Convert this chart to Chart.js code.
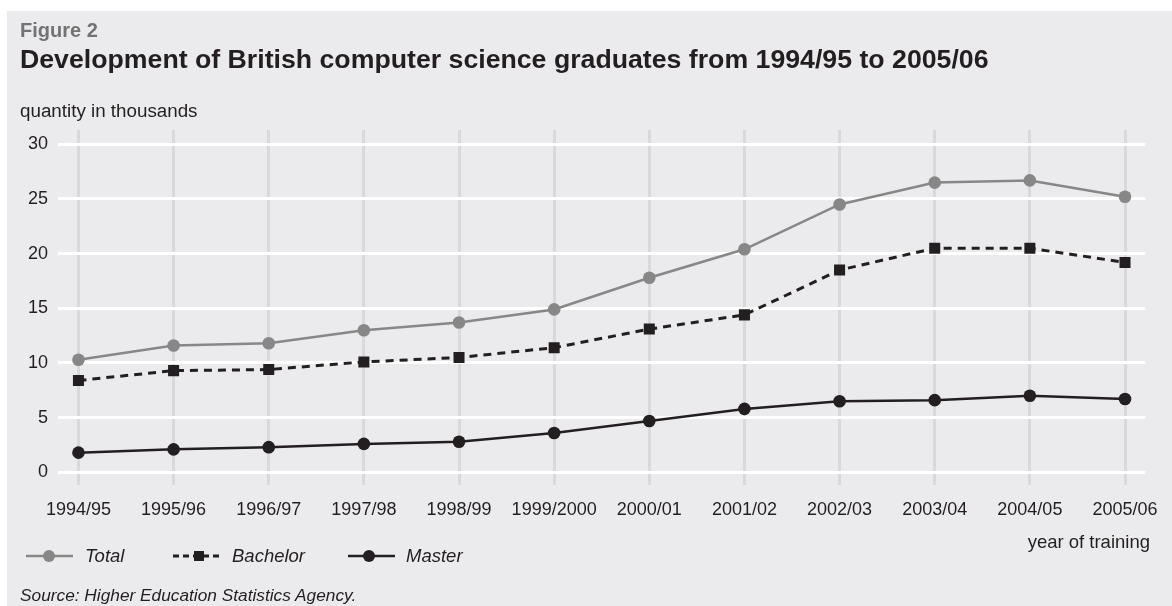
<!DOCTYPE html>
<html>
<head>
<meta charset="utf-8">
<title>Development of British computer science graduates</title>
<script src="https://cdn.jsdelivr.net/npm/chart.js@4.4.1/dist/chart.umd.min.js"></script>
<style>
  html, body { margin: 0; padding: 0; background: #ffffff; }
  body { width: 1172px; height: 606px; position: relative; overflow: hidden;
         font-family: "Liberation Sans", Arial, Helvetica, sans-serif; color: #231f20; }
  #panel { position: absolute; left: 7px; top: 11px; width: 1165px; height: 595px; background: #ebebed; }
  #chart { position: absolute; left: 0; top: 0; }
  .txt { position: absolute; white-space: nowrap; line-height: 1; }
  #fig { left: 20px; top: 20px; font-size: 20px; font-weight: bold; color: #737373; }
  #title { left: 20px; top: 46px; font-size: 26.7px; font-weight: bold; color: #231f20; }
  #ytitle { left: 20px; top: 102px; font-size: 18.8px; }
  #xtitle { right: 22px; top: 533px; font-size: 18.5px; }
  #source { left: 20px; top: 587px; font-size: 17.3px; font-style: italic; }
  .leg { position: absolute; top: 546px; height: 20px; }
  .leg svg { position: absolute; left: 0; top: 0; }
  .leg span { position: absolute; top: 1px; font-size: 18.5px; font-style: italic; line-height: 1; white-space: nowrap; }
</style>
</head>
<body>
<div id="panel"></div>
<canvas id="chart" width="1172" height="606"></canvas>

<div class="txt" id="fig">Figure 2</div>
<div class="txt" id="title">Development of British computer science graduates from 1994/95 to 2005/06</div>
<div class="txt" id="ytitle">quantity in thousands</div>
<div class="txt" id="xtitle">year of training</div>

<div class="leg" style="left:26px;">
  <svg width="50" height="20"><line x1="0" y1="10" x2="47" y2="10" stroke="#878787" stroke-width="2.5"/><circle cx="23" cy="10" r="6" fill="#878787"/></svg>
  <span style="left:59px;">Total</span>
</div>
<div class="leg" style="left:173px;">
  <svg width="50" height="20"><line x1="0" y1="10" x2="48" y2="10" stroke="#231f20" stroke-width="3" stroke-dasharray="6,4"/><rect x="21" y="5" width="10" height="10" fill="#231f20"/></svg>
  <span style="left:59px;">Bachelor</span>
</div>
<div class="leg" style="left:348px;">
  <svg width="50" height="20"><line x1="0" y1="10" x2="47" y2="10" stroke="#231f20" stroke-width="2.5"/><circle cx="21" cy="10" r="6" fill="#231f20"/></svg>
  <span style="left:58px;">Master</span>
</div>

<div class="txt" id="source">Source: Higher Education Statistics Agency.</div>

<script>
// Academic years on the horizontal axis
const years = ["1994/95", "1995/96", "1996/97", "1997/98", "1998/99", "1999/2000",
               "2000/01", "2001/02", "2002/03", "2003/04", "2004/05", "2005/06"];

// Graduates, in thousands
const total    = [10.3, 11.6, 11.8, 13.0, 13.7, 14.9, 17.8, 20.4, 24.5, 26.5, 26.7, 25.2];
const bachelor = [8.4, 9.3, 9.4, 10.1, 10.5, 11.4, 13.1, 14.4, 18.5, 20.5, 20.5, 19.2];
const master   = [1.8, 2.1, 2.3, 2.6, 2.8, 3.6, 4.7, 5.8, 6.5, 6.6, 7.0, 6.7];

// Value axis ticks
const yTicks = [0, 5, 10, 15, 20, 25, 30];

const FONT = "'Liberation Sans', Arial, Helvetica, sans-serif";
const INK = "#231f20";
const GREY = "#878787";

const toPoints = arr => arr.map((v, i) => ({ x: i, y: v }));

new Chart(document.getElementById("chart"), {
  type: "line",
  data: {
    datasets: [
      {
        label: "Total",
        data: toPoints(total),
        borderColor: GREY,
        backgroundColor: GREY,
        borderWidth: 2.5,
        pointRadius: 6.3,
        pointBorderWidth: 0,
        pointBackgroundColor: GREY,
        tension: 0
      },
      {
        label: "Bachelor",
        data: toPoints(bachelor),
        borderColor: INK,
        backgroundColor: INK,
        borderWidth: 3,
        borderDash: [8, 6],
        pointStyle: "rect",
        pointRadius: 7.8,
        pointBorderWidth: 0,
        pointBackgroundColor: INK,
        tension: 0
      },
      {
        label: "Master",
        data: toPoints(master),
        borderColor: INK,
        backgroundColor: INK,
        borderWidth: 2.5,
        pointRadius: 6.3,
        pointBorderWidth: 0,
        pointBackgroundColor: INK,
        tension: 0
      }
    ]
  },
  options: {
    responsive: false,
    animation: false,
    devicePixelRatio: 1,
    layout: { padding: { left: 20, right: 25, top: 130, bottom: 91 } },
    plugins: {
      legend: { display: false },
      title: { display: false },
      tooltip: { enabled: false }
    },
    scales: {
      x: {
        type: "linear",
        min: -0.215,
        max: 11.213,
        afterBuildTicks: s => { s.ticks = years.map((_, i) => ({ value: i })); },
        afterFit: s => { s.height = 30; },
        grid: { color: "#d9d9db", lineWidth: 3, drawTicks: false, z: -2 },
        border: { display: false },
        ticks: {
          autoSkip: false,
          maxRotation: 0,
          padding: 14,
          color: INK,
          font: { family: FONT, size: 18 },
          callback: v => years[v]
        }
      },
      y: {
        type: "linear",
        min: -1.16,
        max: 31.31,
        afterBuildTicks: s => { s.ticks = yTicks.map(v => ({ value: v })); },
        afterFit: s => { s.width = 38; },
        grid: { color: "#ffffff", lineWidth: 3, drawTicks: false, z: -1 },
        border: { display: false },
        ticks: {
          padding: 10,
          color: INK,
          font: { family: FONT, size: 18 }
        }
      }
    }
  }
});
</script>
</body>
</html>
